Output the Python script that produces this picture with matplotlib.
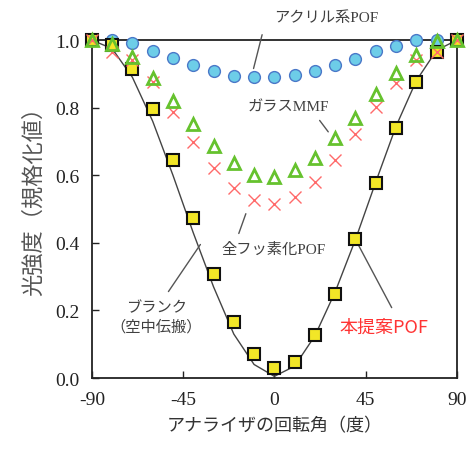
import numpy as np
import matplotlib
matplotlib.use("Agg")
import matplotlib.pyplot as plt

# rotation angle of analyzer (deg)
angles = [-90, -80, -70, -60, -50, -40, -30, -20, -10, 0,
          10, 20, 30, 40, 50, 60, 70, 80, 90]

# blank (air propagation)
blank = [1.0, 0.975, 0.89, 0.76, 0.6, 0.43, 0.27, 0.13, 0.04, 0.005,
         0.035, 0.125, 0.255, 0.41, 0.58, 0.745, 0.88, 0.97, 1.0]
# proposed POF
proposed = [1.0, 0.985, 0.915, 0.796, 0.645, 0.475, 0.308, 0.167, 0.071, 0.029,
            0.047, 0.126, 0.249, 0.41, 0.576, 0.739, 0.877, 0.966, 1.0]
# perfluorinated POF
perfluoro = [1.0, 0.966, 0.94, 0.877, 0.788, 0.698, 0.622, 0.561, 0.526, 0.516,
             0.536, 0.581, 0.645, 0.722, 0.803, 0.872, 0.941, 0.966, 1.0]
# glass MMF
glass = [1.0, 0.988, 0.949, 0.889, 0.82, 0.751, 0.686, 0.635, 0.602, 0.595,
         0.615, 0.652, 0.709, 0.77, 0.84, 0.902, 0.955, 0.996, 1.0]
# acrylic POF
acrylic = [1.0, 1.0, 0.991, 0.969, 0.947, 0.925, 0.91, 0.895, 0.89, 0.89,
           0.897, 0.91, 0.925, 0.945, 0.969, 0.984, 0.999, 1.0, 1.0]

xticks = [-90, -45, 0, 45, 90]
yticks = [0.0, 0.2, 0.4, 0.6, 0.8, 1.0]

jp = ["Noto Sans CJK JP", "DejaVu Sans"]
jp_serif = ["Liberation Serif", "Noto Sans CJK JP"]
gray = "#404040"

fig = plt.figure(figsize=(4.71, 4.52), dpi=100)
ax = fig.add_axes([0.195, 0.1615, 0.775, 0.7475])

ax.plot(angles, blank, color="#444444", lw=1.0, zorder=2, clip_on=False)
ax.plot(angles, acrylic, ls="none", marker="o", ms=8.5, mfc="#6dcde8",
        mec="#4a78c8", mew=1.0, zorder=3, clip_on=False)
ax.plot(angles, proposed, ls="none", marker="s", ms=8.5, mfc="#f2e627",
        mec="#111111", mew=1.5, zorder=4, clip_on=False)
ax.plot(angles, perfluoro, ls="none", marker="x", ms=8, mec="#ff6a6a",
        mew=1.0, zorder=5, clip_on=False)
ax.plot(angles, glass, ls="none", marker="^", ms=8.5, mfc="none",
        mec="#66c22e", mew=2.0, zorder=6, clip_on=False)

ax.set_xlim(-90, 90)
ax.set_ylim(0, 1)
ax.set_xticks(xticks)
ax.set_yticks(yticks)
ax.set_xticklabels([str(t) for t in xticks])
ax.set_yticklabels([f"{t:.1f}" for t in yticks])
ax.tick_params(direction="in", length=5, width=1, pad=9, labelsize=14,
               colors="#222222")
for lab in ax.get_xticklabels() + ax.get_yticklabels():
    lab.set_fontfamily("Liberation Serif")
for sp in ax.spines.values():
    sp.set_linewidth(1.3)
    sp.set_color("#222222")

ax.set_xlabel("アナライザの回転角（度）", family=jp, fontsize=13, color="#333333",
              labelpad=6)
fig.text(0.07, 0.567, "光強度（規格化値）", family=jp, fontsize=16, color="#555555",
         rotation=90, ha="center", va="center")

line_kw = dict(arrowstyle="-", lw=1.0, color="#555555")

ax.text(25.4, 1.068, "アクリル系POF", family=jp_serif, fontsize=11, color=gray,
        ha="center", va="center", clip_on=False)
ax.annotate("", xy=(-10.6, 0.908), xytext=(-5.7, 1.024), arrowprops=line_kw,
            annotation_clip=False)

ax.text(6.7, 0.802, "ガラスMMF", family=jp_serif, fontsize=11, color=gray,
        ha="center", va="center")
ax.annotate("", xy=(27.4, 0.722), xytext=(21.5, 0.769), arrowprops=line_kw)

ax.text(-0.2, 0.382, "全フッ素化POF", family=jp_serif, fontsize=11, color=gray,
        ha="center", va="center")
ax.annotate("", xy=(-13.6, 0.494), xytext=(-18.0, 0.420), arrowprops=line_kw)

ax.text(-58.2, 0.182, "ブランク\n（空中伝搬）", family=jp, fontsize=11, color=gray,
        ha="center", va="center", linespacing=1.2)
ax.annotate("", xy=(-35.7, 0.402), xytext=(-53.0, 0.249), arrowprops=line_kw)

ax.text(54.0, 0.151, "本提案POF", family=jp, fontsize=13, color="#ff3333",
        ha="center", va="center")
ax.annotate("", xy=(40.7, 0.402), xytext=(58.5, 0.201), arrowprops=line_kw)

fig.savefig("out.png", dpi=100)
